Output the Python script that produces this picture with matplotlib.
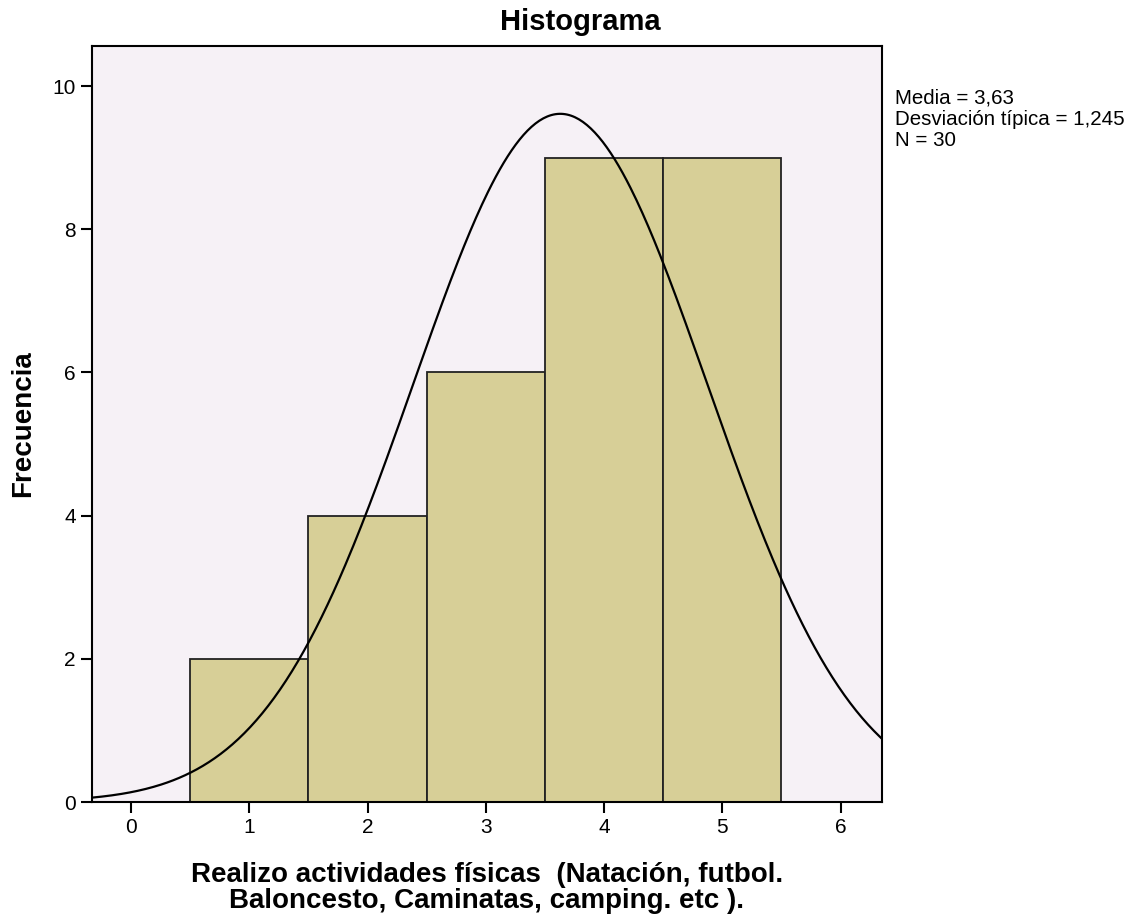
import numpy as np
import matplotlib.pyplot as plt

plt.rcParams['font.family'] = ['Liberation Sans', 'DejaVu Sans']

# datos del histograma
valores = [1, 2, 3, 4, 5]
frecuencias = [2, 4, 6, 9, 9]
media = 3.63
desv = 1.245
n = 30

fig = plt.figure(figsize=(11.34, 9.17), dpi=100)
ax = fig.add_axes([0.0811, 0.1254, 0.6966, 0.8244])
ax.set_facecolor('#F6F1F6')

ax.bar(valores, frecuencias, width=1.0, color='#D7CF97', edgecolor='#222222', linewidth=1.3)

xs = np.linspace(-0.33, 6.35, 400)
ys = n * 1.0 / (desv * np.sqrt(2 * np.pi)) * np.exp(-0.5 * ((xs - media) / desv) ** 2)
ax.plot(xs, ys, color='black', linewidth=1.6)

ax.set_xlim(-0.33, 6.35)
ax.set_ylim(0, 10.56)
ax.set_xticks(range(0, 7))
ax.set_yticks(range(0, 11, 2))
ax.tick_params(labelsize=15, length=8, width=1.5, direction='out')
for s in ax.spines.values():
    s.set_linewidth(1.5)

fig.text(0.512, 0.976, 'Histograma', fontsize=21, fontweight='bold', ha='center', va='center')
ax.set_ylabel('Frecuencia', fontsize=20, fontweight='bold', labelpad=12)
ax.set_xlabel('Realizo actividades físicas  (Natación, futbol.\nBaloncesto, Caminatas, camping. etc ).',
              fontsize=20, fontweight='bold', labelpad=18, linespacing=1.0)

fig.text(0.789, 0.903, 'Media = 3,63\nDesviación típica = 1,245\nN = 30',
         fontsize=14.8, va='top', ha='left', linespacing=1.15)

fig.savefig('out.png', dpi=100)
